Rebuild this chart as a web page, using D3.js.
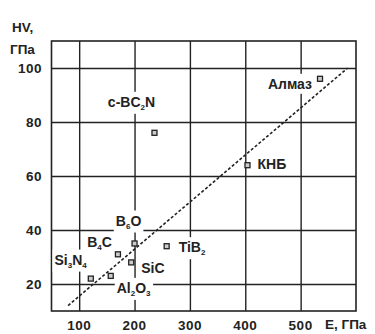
<!DOCTYPE html>
<html>
<head>
<meta charset="utf-8">
<script src="https://cdn.jsdelivr.net/npm/d3@7"></script>
<style>
  body { margin: 0; background: #fff; }
  svg { display: block; font-family: "Liberation Sans", Arial, sans-serif; font-weight: bold; }
</style>
</head>
<body>
<svg id="chart"></svg>
<script>
// data
const materials = ["Алмаз", "КНБ", "c-BC2N", "B6O", "B4C", "SiC", "TiB2", "Al2O3", "Si3N4"];
const modulusE = [535, 404, 236, 200, 170, 194, 258, 157, 121];
const hardnessHV = [96, 64, 76, 35, 31, 28, 34, 23, 22];
const trendE = [80, 585];
const trendHV = [12, 100];
const xTicks = [100, 200, 300, 400, 500];
const yTicks = [20, 40, 60, 80, 100];

// label placement relative to marker: [anchor, dx, dy]
const labelPos = {
  "Алмаз": ["end", -8, 10],
  "КНБ": ["start", 10, 4],
  "c-BC2N": ["middle", -23, -26],
  "B6O": ["middle", -6, -18],
  "B4C": ["end", -6, -7],
  "SiC": ["start", 10, 11],
  "TiB2": ["start", 12, 6],
  "Al2O3": ["start", 6, 17],
  "Si3N4": ["end", -4, -14]
};

const W = 375, H = 334;
const margin = { top: 41, right: 19, bottom: 23, left: 51.5 };
const ink = "#222";

const svg = d3.select("#chart").attr("width", W).attr("height", H);

const x = d3.scaleLinear().domain([50, 600]).range([margin.left, W - margin.right]);
const y = d3.scaleLinear().domain([10, 110]).range([H - margin.bottom, margin.top]);

// grid
svg.append("g")
  .attr("transform", "translate(0," + (H - margin.bottom) + ")")
  .call(d3.axisBottom(x).tickValues(xTicks).tickSize(-(H - margin.top - margin.bottom)).tickFormat(""))
  .call(g => g.select(".domain").remove())
  .selectAll("line").attr("stroke", ink).attr("stroke-width", 1.4);

svg.append("g")
  .attr("transform", "translate(" + margin.left + ",0)")
  .call(d3.axisLeft(y).tickValues(yTicks).tickSize(-(W - margin.left - margin.right)).tickFormat(""))
  .call(g => g.select(".domain").remove())
  .selectAll("line").attr("stroke", ink).attr("stroke-width", 1.4);

// frame
svg.append("rect")
  .attr("x", x(50)).attr("y", y(110))
  .attr("width", x(600) - x(50)).attr("height", y(10) - y(110))
  .attr("fill", "none").attr("stroke", ink).attr("stroke-width", 1.6);

// tick labels
svg.append("g").selectAll("text").data(xTicks).join("text")
  .attr("x", d => x(d)).attr("y", 330)
  .attr("text-anchor", "middle").attr("font-size", 13.5).attr("letter-spacing", 0.5).attr("fill", ink)
  .text(d => d);

svg.append("g").selectAll("text").data(yTicks).join("text")
  .attr("x", 42).attr("y", d => y(d)).attr("dy", "0.36em")
  .attr("text-anchor", "end").attr("font-size", 13.5).attr("letter-spacing", 0.5).attr("fill", ink)
  .text(d => d);

svg.append("text").attr("x", 12).attr("y", 32).attr("font-size", 13.5).attr("fill", ink).text("HV,");
svg.append("text").attr("x", 10).attr("y", 54).attr("font-size", 13.5).attr("fill", ink).text("ГПа");
svg.append("text").attr("x", 325).attr("y", 329).attr("font-size", 13.5).attr("fill", ink).text("E, ГПа");

// labels with subscripts
const pts = materials.map((m, i) => ({ name: m, e: modulusE[i], hv: hardnessHV[i] }));

const labels = svg.append("g").selectAll("g").data(pts).join("g");
const texts = labels.append("text")
  .attr("x", d => x(d.e) + labelPos[d.name][1])
  .attr("y", d => y(d.hv) + labelPos[d.name][2])
  .attr("text-anchor", d => labelPos[d.name][0])
  .attr("font-size", 14).attr("fill", ink);

texts.each(function(d) {
  const t = d3.select(this);
  const parts = d.name.match(/\d+|\D+/g);
  let sub = false;
  parts.forEach(p => {
    const isNum = /\d/.test(p);
    const s = t.append("tspan").text(p);
    if (isNum) { s.attr("font-size", 8).attr("dy", 3); sub = true; }
    else if (sub) { s.attr("dy", -3); sub = false; }
  });
});

// white boxes behind labels
labels.each(function() {
  const g = d3.select(this);
  const b = g.select("text").node().getBBox();
  g.insert("rect", "text")
    .attr("x", b.x - 2).attr("y", b.y - 2)
    .attr("width", b.width + 4).attr("height", b.height + 4)
    .attr("fill", "#fff");
});

// trend line
const line = d3.line().x(d => x(d[0])).y(d => y(d[1]));
svg.append("path")
  .datum(trendE.map((e, i) => [e, trendHV[i]]))
  .attr("d", line)
  .attr("fill", "none").attr("stroke", ink)
  .attr("stroke-width", 1.6).attr("stroke-dasharray", "3,2");

// markers
svg.append("g").selectAll("rect").data(pts).join("rect")
  .attr("x", d => x(d.e) - 2.5).attr("y", d => y(d.hv) - 2.5)
  .attr("width", 5).attr("height", 5)
  .attr("fill", "#ccc").attr("stroke", ink).attr("stroke-width", 1.3);
</script>
</body>
</html>
